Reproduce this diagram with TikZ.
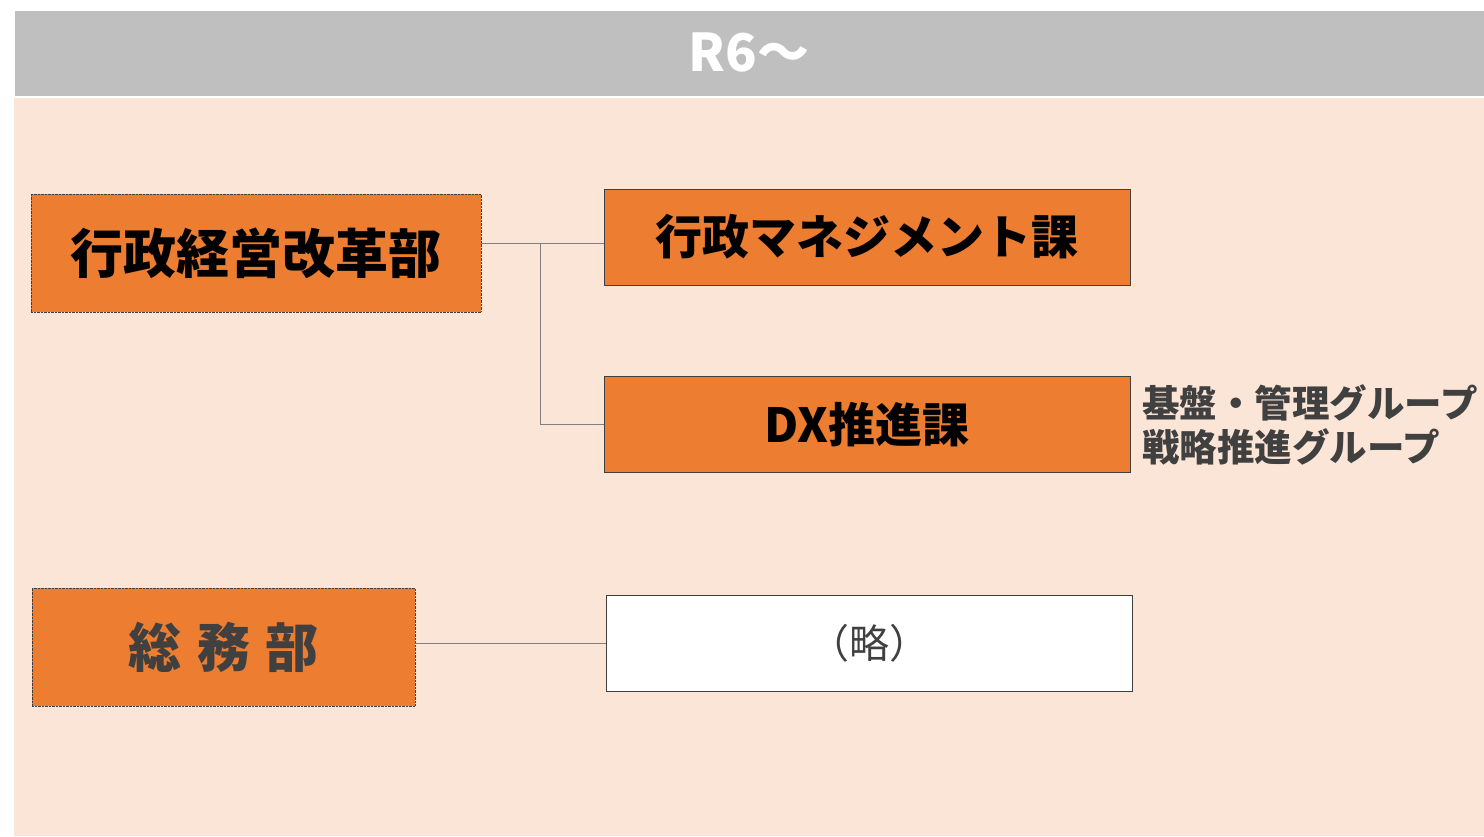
\documentclass[tikz,border=0pt]{standalone}
\usepackage{fontspec}
\setmainfont{Noto Sans CJK JP}
\usetikzlibrary{positioning}
\definecolor{hdrgray}{HTML}{BFBFBF}
\definecolor{peach}{HTML}{FBE5D6}
\definecolor{orng}{HTML}{ED7D31}
\definecolor{txtgray}{HTML}{404040}
\definecolor{lngray}{HTML}{7F7F7F}
\tikzset{
  bu/.style={draw=txtgray,densely dotted,fill=orng,minimum width=450pt,minimum height=118pt,inner sep=0pt,font=\fontsize{53}{60}\selectfont\bfseries},
  ka/.style={draw=txtgray,fill=orng,minimum width=526pt,minimum height=96pt,inner sep=0pt,font=\fontsize{47}{54}\selectfont\bfseries},
  ln/.style={draw=lngray,line width=1pt}
}
\begin{document}
\begin{tikzpicture}[x=1pt,y=-1pt]
  \useasboundingbox (0,0) rectangle (1484,836);
  \fill[white] (0,0) rectangle (1484,836);
  \fill[hdrgray] (15,11) rectangle (1484,96);
  \fill[peach] (14,98) rectangle (1484,836);
  \node[text=white,font=\fontsize{52}{60}\selectfont\bfseries] (hdr) at (749,52) {R6～};

  % departments
  \node[bu] (gyosei) at (256,253) {行政経営改革部};
  \node[bu,minimum width=383pt,text=txtgray] (somu) at (223.5,647) {総\hspace{0.3em}務\hspace{0.3em}部};

  % sections
  \node[ka] (mgmt) at (867,237) {行政マネジメント課};
  \node[ka] (dx) at (867,424.5) {DX推進課};
  \node[ka,fill=white,draw=txtgray,font=\fontsize{40}{48}\selectfont,text=txtgray] (ryaku) at (869,643.5) {（略）};
  \node[right=12pt of dx.east,anchor=west,align=left,text=txtgray,inner sep=0pt,
        font=\fontsize{37.5}{44}\selectfont\bfseries] (grp) {基盤・管理グループ\\戦略推進グループ};

  \coordinate (br) at (540,243);
  \draw[ln] (gyosei.east |- br) -- (mgmt.west |- br);
  \draw[ln] (br) |- (dx.west);
  \draw[ln] (somu.east |- ryaku.west) -- (ryaku.west);
\end{tikzpicture}
\end{document}
